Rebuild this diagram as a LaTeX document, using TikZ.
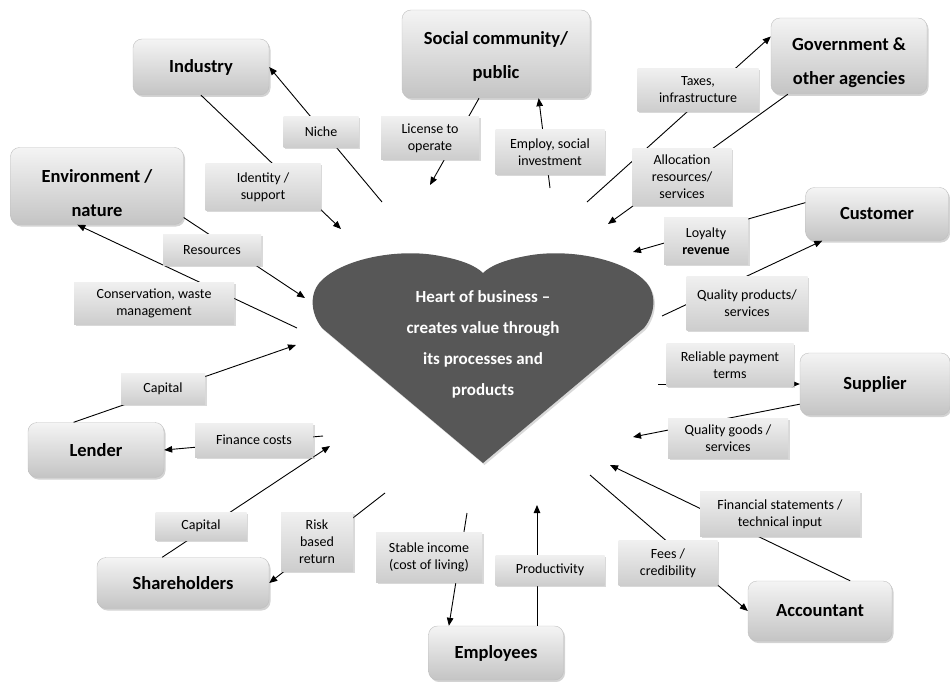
\documentclass[tikz,border=0pt]{standalone}
\usepackage{fontspec}
\setmainfont{Carlito}
\usetikzlibrary{arrows.meta,shadows}

\definecolor{heartgray}{HTML}{575757}
\definecolor{boxtop}{HTML}{F4F4F4}
\definecolor{boxbot}{HTML}{C4C4C4}
\definecolor{lbltop}{HTML}{F0F0F0}
\definecolor{lblbot}{HTML}{CDCDCD}

\begin{document}
\begin{tikzpicture}[x=1pt,y=-1pt,
    party/.style={rounded corners=9pt, draw=gray!50, line width=0.4pt,
        top color=boxtop, bottom color=boxbot,
        drop shadow={shadow xshift=1.5pt,shadow yshift=-2pt,opacity=0.35},
        font=\fontsize{18.5}{34}\selectfont\bfseries, align=center},
    lbl/.style={top color=lbltop, bottom color=lblbot,
        drop shadow={shadow xshift=1.5pt,shadow yshift=-1.5pt,opacity=0.3},
        font=\fontsize{14}{17}\selectfont, align=center, inner sep=2pt},
    flow/.style={line width=0.9pt, -{Triangle[length=8pt,width=6.5pt]}}
]
    \useasboundingbox (0,0) rectangle (950,682);

    % Heart in the middle
    \fill[heartgray, drop shadow={shadow xshift=1.5pt,shadow yshift=-2pt,opacity=0.3}]
        (483,463) -- (322,328) .. controls (310,313) and (309,292) .. (322,280)
        .. controls (345,258) and (400,248) .. (440,256)
        .. controls (462,260) and (476,266) .. (483,273)
        .. controls (490,266) and (504,260) .. (526,256)
        .. controls (566,248) and (621,258) .. (644,280)
        .. controls (657,292) and (656,313) .. (644,328) -- cycle;
    \node[white, font=\fontsize{17}{31}\selectfont\bfseries, align=center] (heart) at (483,344)
        {Heart of business –\\creates value through\\its processes and\\products};

    % Stakeholders
    \node[party, minimum width=136pt, minimum height=56pt] (industry) at (201,67) {Industry};
    \node[party, minimum width=188pt, minimum height=88pt] (social) at (496,54) {\rule{0pt}{17pt}Social community/\\public};
    \node[party, minimum width=156pt, minimum height=76pt] (gov) at (849,56) {\rule{0pt}{27pt}Government \&\\other agencies};
    \node[party, minimum width=173pt, minimum height=77pt] (env) at (97,186) {\rule{0pt}{27pt}Environment /\\nature};
    \node[party, minimum width=143pt, minimum height=53pt] (customer) at (877,214) {Customer};
    \node[party, minimum width=150pt, minimum height=62pt] (supplier) at (875,384) {Supplier};
    \node[party, minimum width=136pt, minimum height=55pt] (lender) at (96,450) {Lender};
    \node[party, minimum width=172pt, minimum height=51pt] (shareholders) at (183,583) {Shareholders};
    \node[party, minimum width=144pt, minimum height=60pt] (accountant) at (820,611) {Accountant};
    \node[party, minimum width=135pt, minimum height=54pt] (employees) at (496,653) {Employees};

    % Free ends round the heart
    \coordinate (hNiche) at (382,202);
    \coordinate (hIdentity) at (341,229);
    \coordinate (hResources) at (305,298);
    \coordinate (hConserv) at (297,328);
    \coordinate (hLicense) at (430,185);
    \coordinate (hEmploy) at (550,188);
    \coordinate (hTaxes) at (587,202);
    \coordinate (hAlloc) at (608,224);
    \coordinate (hLoyalty) at (633,252);
    \coordinate (hQprod) at (662,316);
    \coordinate (hReliable) at (658,384);
    \coordinate (hQgoods) at (633,437);
    \coordinate (hFinstat) at (610,465);
    \coordinate (hFees) at (590,475);
    \coordinate (hProd) at (537,505);
    \coordinate (hStable) at (467,513);
    \coordinate (hRisk) at (385,493);
    \coordinate (hCapSh) at (330,446);
    \coordinate (hFinance) at (323,436);
    \coordinate (hCapL) at (296,345);

    % Flows
    \draw[flow] (hNiche) -- (industry.east);
    \draw[flow] (industry.south) -- (hIdentity);
    \draw[flow] (env.-20) -- (hResources);
    \draw[flow] (hConserv) -- (env.-117);
    \draw[flow] (social.-111) -- (hLicense);
    \draw[flow] (hEmploy) -- (social.-46);
    \draw[flow] (hTaxes) -- (gov.166);
    \draw[flow] (gov.-148) -- (hAlloc);
    \draw[flow] (customer.171) -- (hLoyalty);
    \draw[flow] (hQprod) -- (customer.-154);
    \draw[flow] (hReliable) -- (supplier.west);
    \draw[flow] (supplier.-165) -- (hQgoods);
    \draw[flow] (accountant.45) -- (hFinstat);
    \draw[flow] (hFees) -- (accountant.west);
    \draw[flow] (employees.north -| hProd) -- (hProd);
    \draw[flow] (hStable) -- (employees.150);
    \draw[flow] (lender.129) -- (hCapL);
    \draw[flow] (hFinance) -- (lender.east);
    \draw[flow] (shareholders.129) -- (hCapSh);
    \draw[flow] (hRisk) -- (shareholders.east);

    % Labels on the flows
    \node[lbl, minimum width=75pt, minimum height=30pt] (niche) at (321,132) {Niche};
    \node[lbl, minimum width=115pt, minimum height=47pt] (identity) at (263,187) {Identity /\\support};
    \node[lbl, minimum width=98pt, minimum height=31pt] (resources) at (212,250) {Resources};
    \node[lbl, minimum width=160pt, minimum height=42pt] (conserv) at (154,303) {Conservation, waste\\management};
    \node[lbl, minimum width=98pt, minimum height=42pt] (license) at (430,138) {License to\\operate};
    \node[lbl, minimum width=109pt, minimum height=45pt] (employ) at (550,152) {Employ, social\\investment};
    \node[lbl, minimum width=121pt, minimum height=43pt] (taxes) at (698,90) {Taxes,\\infrastructure};
    \node[lbl, minimum width=99pt, minimum height=57pt] (alloc) at (682,177) {Allocation\\resources/\\services};
    \node[lbl, minimum width=84pt, minimum height=47pt] (loyalty) at (706,241) {Loyalty\\\textbf{revenue}};
    \node[lbl, minimum width=121pt, minimum height=54pt] (qprod) at (747,303) {Quality products/\\services};
    \node[lbl, minimum width=127pt, minimum height=43pt] (reliable) at (730,365) {Reliable payment\\terms};
    \node[lbl, minimum width=120pt, minimum height=40pt] (qgoods) at (728,438) {Quality goods /\\services};
    \node[lbl, minimum width=160pt, minimum height=45pt] (finstat) at (780,514) {Financial statements /\\technical input};
    \node[lbl, minimum width=99pt, minimum height=45pt] (fees) at (668,563) {Fees /\\credibility};
    \node[lbl, minimum width=109pt, minimum height=30pt] (prod) at (550,570) {Productivity};
    \node[lbl, minimum width=106pt, minimum height=50pt] (stable) at (429,557) {Stable income\\(cost of living)};
    \node[lbl, minimum width=72pt, minimum height=59pt] (risk) at (317,542) {Risk\\based\\return};
    \node[lbl, minimum width=91pt, minimum height=28pt] (capsh) at (201,526) {Capital};
    \node[lbl, minimum width=118pt, minimum height=34pt] (finance) at (254,440) {Finance costs};
    \node[lbl, minimum width=84pt, minimum height=31pt] (capl) at (163,389) {Capital};
\end{tikzpicture}
\end{document}
